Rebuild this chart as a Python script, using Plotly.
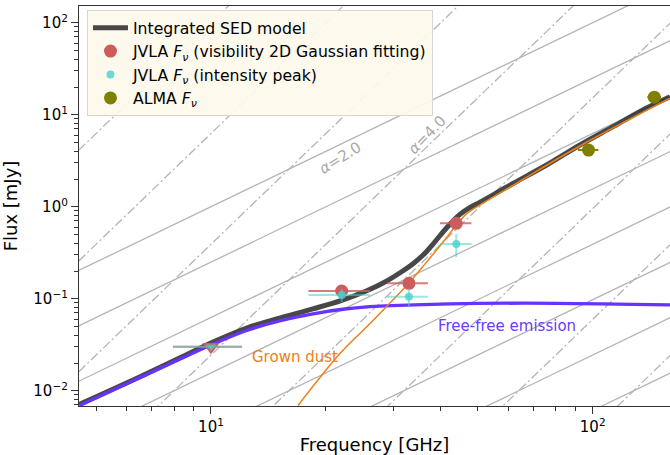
import plotly.graph_objects as go

# ---------------- data ----------------
# Integrated SED model curve
SED_NU = [4.52, 6.5, 8.3, 10.1, 12.4, 15.2, 18.5, 22.0, 25.6, 28.8, 31.5, 33.9,
          36.0, 38.3, 41.5, 44.8, 47.5, 50.7, 62.0, 75.7, 92.6, 113.0, 138.0, 159.4]
SED_F = [0.0071, 0.0141, 0.0228, 0.0336, 0.0480, 0.0620, 0.0775, 0.0960, 0.122,
         0.155, 0.195, 0.242, 0.300, 0.400, 0.595, 0.82, 0.97, 1.12, 1.80, 2.84,
         4.69, 7.41, 11.75, 15.7]

# Free-free emission component
FF_NU = [4.52, 6.5, 8.3, 10.1, 12.4, 15.2, 18.5, 22.7, 27.7, 34.0, 50.0, 80.0, 159.4]
FF_F = [0.0069, 0.0138, 0.0221, 0.0320, 0.0452, 0.0577, 0.0686, 0.0778, 0.0830,
        0.0856, 0.0888, 0.0892, 0.0858]

# Grown dust component
DUST_NU = [16.9, 21.8, 25.6, 28.8, 32.6, 36.7, 41.5, 44.0, 46.8, 50.7, 62.0,
           92.6, 159.4]
DUST_F = [0.0069, 0.0255, 0.0497, 0.0819, 0.140, 0.250, 0.465, 0.64, 0.84, 1.05,
          1.72, 4.57, 15.1]

# JVLA visibility 2D Gaussian fitting
VIS_NU = [22.0, 33.0, 43.9]
VIS_F = [0.121, 0.147, 0.66]
VIS_NU_LO = [18.0, 28.9, 39.8]
VIS_NU_HI = [26.1, 37.0, 48.1]

# JVLA intensity peak
PEAK_NU = [22.0, 33.0, 43.9]
PEAK_F = [0.110, 0.105, 0.394]
PEAK_F_ERR = [0.018, 0.024, 0.11]
PEAK_NU_LO = [18.0, 28.9, 39.8]
PEAK_NU_HI = [26.1, 37.0, 48.1]

# X-band upper limit (both methods)
UL_NU = [10.0]
UL_F = [0.030]
UL_NU_LO = [7.95]
UL_NU_HI = [12.06]

# ALMA
ALMA_NU = [97.5, 145.0]
ALMA_F = [4.13, 15.5]
ALMA_NU_ERR = [6.0, 6.0]

# Power-law guide lines: F = GUIDE_F0 * (nu / anchor)^alpha
GUIDE_F0 = 0.01
GUIDE_ANCHORS = [1, 2, 4, 8, 16, 32, 64, 128, 256]
GUIDE_ALPHAS = [2.0, 4.0]
GUIDE_NU_ENDS = [2.0, 400.0]

X_TICKS = [10, 100]
X_TICKTEXT = ["10<sup>1</sup>", "10<sup>2</sup>"]
Y_TICKS = [0.01, 0.1, 1, 10, 100]
Y_TICKTEXT = ["10<sup>\u22122</sup>", "10<sup>\u22121</sup>", "10<sup>0</sup>",
              "10<sup>1</sup>", "10<sup>2</sup>"]

# ---------------- figure ----------------
fig = go.Figure()

for alpha in GUIDE_ALPHAS:
    xs, ys = [], []
    for a in GUIDE_ANCHORS:
        for nu in GUIDE_NU_ENDS:
            xs.append(nu)
            ys.append(GUIDE_F0 * (nu / a) ** alpha)
        xs.append(None)
        ys.append(None)
    fig.add_trace(go.Scatter(
        x=xs, y=ys, mode="lines", showlegend=False, hoverinfo="skip",
        line=dict(color="#b4b4b4", width=1.3,
                  dash="solid" if alpha == 2.0 else "9px,3px,2px,3px")))

fig.add_trace(go.Scatter(
    x=SED_NU, y=SED_F, mode="lines", name="Integrated SED model",
    legendgroup="a", legendrank=1,
    line=dict(color="rgba(40,40,40,0.85)", width=5, shape="spline", smoothing=1.0)))
fig.add_trace(go.Scatter(
    x=FF_NU, y=FF_F, mode="lines", showlegend=False,
    line=dict(color="#6633ff", width=3.3, shape="spline", smoothing=1.0)))
fig.add_trace(go.Scatter(
    x=DUST_NU, y=DUST_F, mode="lines", showlegend=False,
    line=dict(color="#ee8019", width=1.5, shape="spline", smoothing=1.0)))

red = "#cd5c5c"

# upper limit triangles
fig.add_trace(go.Scatter(
    x=UL_NU, y=UL_F, mode="markers", showlegend=False,
    marker=dict(symbol="triangle-down", size=15, color=red),
    error_x=dict(type="data", symmetric=False,
                 array=[h - n for h, n in zip(UL_NU_HI, UL_NU)],
                 arrayminus=[n - l for l, n in zip(UL_NU_LO, UL_NU)],
                 color="rgba(205,92,92,0.75)", thickness=2, width=0)))

fig.add_trace(go.Scatter(
    x=VIS_NU, y=VIS_F, mode="markers",
    name="JVLA <i>F<sub>\u03bd</sub></i> (visibility 2D Gaussian fitting)",
    legendgroup="b", legendrank=2,
    marker=dict(symbol="circle", size=13, color=red),
    error_x=dict(type="data", symmetric=False,
                 array=[h - n for h, n in zip(VIS_NU_HI, VIS_NU)],
                 arrayminus=[n - l for l, n in zip(VIS_NU_LO, VIS_NU)],
                 color="rgba(205,92,92,0.8)", thickness=2, width=0)))

fig.add_trace(go.Scatter(
    x=UL_NU, y=UL_F, mode="markers", showlegend=False,
    marker=dict(symbol="triangle-down", size=9, color="rgba(72,209,204,0.7)"),
    error_x=dict(type="data", symmetric=False,
                 array=[h - n for h, n in zip(UL_NU_HI, UL_NU)],
                 arrayminus=[n - l for l, n in zip(UL_NU_LO, UL_NU)],
                 color="rgba(72,209,204,0.55)", thickness=2, width=0)))

fig.add_trace(go.Scatter(
    x=PEAK_NU, y=PEAK_F, mode="markers",
    name="JVLA <i>F<sub>\u03bd</sub></i> (intensity peak)",
    legendgroup="c", legendrank=3,
    marker=dict(symbol="circle", size=8, color="rgba(72,209,204,0.8)"),
    error_x=dict(type="data", symmetric=False,
                 array=[h - n for h, n in zip(PEAK_NU_HI, PEAK_NU)],
                 arrayminus=[n - l for l, n in zip(PEAK_NU_LO, PEAK_NU)],
                 color="rgba(72,209,204,0.55)", thickness=2, width=0),
    error_y=dict(type="data", array=PEAK_F_ERR,
                 color="rgba(72,209,204,0.55)", thickness=2, width=0)))

fig.add_trace(go.Scatter(
    x=ALMA_NU, y=ALMA_F, mode="markers", name="ALMA <i>F<sub>\u03bd</sub></i>",
    legendgroup="d", legendrank=4,
    marker=dict(symbol="circle", size=13, color="#808000"),
    error_x=dict(type="data", array=ALMA_NU_ERR, color="#808000",
                 thickness=2, width=0)))

# text labels
gray_txt = "#aaaaaa"
common = dict(xref="paper", yref="paper", showarrow=False,
              xanchor="center", yanchor="middle")
fig.add_annotation(x=0.4416, y=0.62, text="<i>\u03b1</i>=2.0", textangle=-32,
                   font=dict(color=gray_txt, size=15), **common)
fig.add_annotation(x=0.5888, y=0.6775, text="<i>\u03b1</i>=4.0", textangle=-46,
                   font=dict(color=gray_txt, size=15), **common)
fig.add_annotation(x=0.3655, y=0.1225, text="Grown dust",
                   font=dict(color="#ee8019", size=15), **common)
fig.add_annotation(x=0.725, y=0.20, text="Free-free emission",
                   font=dict(color="#6a3cff", size=15), **common)

minor_y = [m * 10 ** k for k in range(-3, 3) for m in range(2, 10)]
minor_x = [m * 10 ** k for k in range(0, 3) for m in range(2, 10)]

fig.update_layout(
    width=670, height=455,
    margin=dict(l=79, r=0, t=6, b=49),
    plot_bgcolor="white", paper_bgcolor="white",
    font=dict(family="DejaVu Sans", size=15, color="black"),
    legend=dict(x=0.0135, y=0.99, xanchor="left", yanchor="top",
                bgcolor="rgba(253,248,235,0.92)", bordercolor="#d6d6d6",
                borderwidth=1, font=dict(size=15.7), tracegroupgap=3,
                itemwidth=35, traceorder="normal"),
    xaxis=dict(type="log", range=[0.6542, 2.2025], tickmode="array",
               tickvals=X_TICKS, ticktext=X_TICKTEXT, ticks="outside",
               ticklen=7, tickwidth=1.2, tickcolor="#333",
               showgrid=False, zeroline=False, showline=True,
               linecolor="#333", linewidth=1.2, mirror=True, automargin=False,
               minor=dict(ticks="outside", ticklen=4, tickwidth=1,
                          tickcolor="#333", tickmode="array", tickvals=minor_x,
                          showgrid=False),
               title=dict(text="Frequency [GHz]", standoff=6)),
    yaxis=dict(type="log", range=[-2.166, 2.1815], tickmode="array",
               tickvals=Y_TICKS, ticktext=Y_TICKTEXT, ticks="outside",
               ticklen=7, tickwidth=1.2, tickcolor="#333",
               showgrid=False, zeroline=False, showline=True,
               linecolor="#333", linewidth=1.2, mirror=False, automargin=False,
               minor=dict(ticks="outside", ticklen=4, tickwidth=1,
                          tickcolor="#333", tickmode="array", tickvals=minor_y,
                          showgrid=False),
               title=dict(text="Flux [mJy]", standoff=12)),
)

fig.write_html("out.html")
